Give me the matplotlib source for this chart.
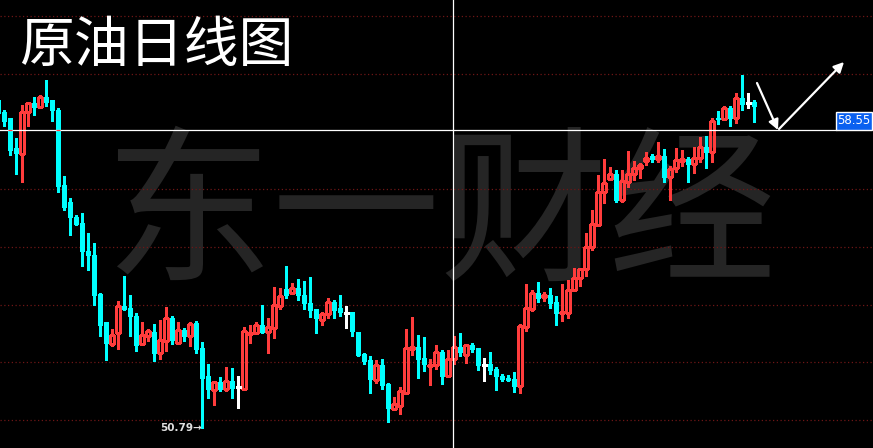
import numpy as np
import matplotlib
matplotlib.use('Agg')
import matplotlib.pyplot as plt
from matplotlib.patches import Rectangle

plt.rcParams['font.family'] = ['Noto Sans CJK SC', 'DejaVu Sans']

# daily candles, first one is cut by the left edge (index -1)
first_index = -1
opens = [59.31, 59.00, 58.84, 58.06, 57.91, 59.00, 59.24, 59.13, 59.41, 59.31,
         59.07, 57.12, 56.68, 56.28, 56.13, 55.40, 55.29, 54.28, 53.55, 52.98,
         53.27, 53.97, 53.91, 53.71, 52.98, 53.19, 53.29, 52.75, 53.06, 53.65,
         52.99, 53.34, 53.17, 53.52, 52.87, 52.14, 51.79, 51.98, 51.81, 52.01,
         51.85, 51.81, 53.23, 53.25, 53.46, 53.29, 53.39, 53.97, 54.41, 54.29,
         54.44, 54.25, 54.04, 53.89, 53.59, 53.75, 54.07, 53.91, 53.78, 53.81,
         53.29, 52.72, 52.56, 52.05, 52.43, 51.94, 51.29, 51.37, 51.70, 52.85,
         52.90, 52.61, 52.40, 52.44, 52.77, 52.15, 52.58, 52.89, 52.70, 52.95,
         52.87, 52.44, 52.46, 52.33, 52.14, 52.07, 52.07, 51.87, 53.41, 53.89,
         54.30, 54.19, 54.25, 54.07, 53.77, 53.79, 54.37, 54.68, 54.92, 55.49,
         56.08, 56.92, 57.26, 57.40, 56.71, 57.20, 57.39, 57.54, 57.73, 57.86,
         57.79, 57.87, 57.33, 57.54, 57.74, 57.79, 57.65, 57.80, 58.10, 57.96,
         58.86, 58.82, 59.10, 58.85, 59.38, 59.24, 59.28]
highs = [59.36, 59.05, 58.84, 58.32, 59.20, 59.28, 59.39, 59.44, 59.83, 59.33,
         59.12, 57.35, 56.78, 56.32, 56.39, 55.87, 55.61, 54.31, 53.55, 53.37,
         54.10, 54.75, 54.26, 53.79, 53.55, 53.36, 53.49, 53.60, 53.93, 53.70,
         53.55, 53.39, 53.55, 53.56, 53.03, 52.46, 51.98, 52.11, 52.37, 52.35,
         52.14, 53.41, 53.46, 53.55, 53.98, 53.65, 54.46, 54.44, 55.00, 54.57,
         54.67, 54.62, 54.72, 53.89, 53.80, 54.17, 54.11, 54.25, 53.97, 53.81,
         53.29, 52.74, 52.66, 52.55, 52.59, 51.97, 51.60, 51.86, 53.37, 53.68,
         53.21, 53.16, 52.59, 52.95, 52.82, 52.82, 53.19, 53.26, 52.98, 53.00,
         52.87, 52.61, 52.77, 52.37, 52.20, 52.17, 52.25, 53.50, 54.54, 54.38,
         54.59, 54.33, 54.44, 54.23, 54.54, 54.64, 54.96, 54.96, 55.87, 56.46,
         57.38, 57.79, 57.59, 57.51, 57.51, 58.00, 57.74, 57.69, 57.98, 57.91,
         58.24, 58.05, 57.61, 58.06, 58.01, 57.84, 58.10, 58.36, 58.39, 58.86,
         59.04, 59.16, 59.16, 59.51, 59.96, 59.51, 59.31]
lows = [58.91, 58.65, 57.90, 57.40, 57.20, 58.65, 58.94, 59.10, 59.16, 58.78,
        56.94, 56.47, 55.80, 56.08, 54.99, 54.89, 53.99, 53.17, 52.56, 52.92,
        52.85, 53.86, 53.19, 52.80, 52.96, 53.06, 52.54, 52.59, 52.80, 52.98,
        52.99, 53.04, 52.93, 52.74, 50.79, 51.58, 51.39, 51.74, 51.74, 51.58,
        51.32, 51.80, 52.99, 53.23, 53.25, 52.75, 53.14, 53.89, 54.16, 54.29,
        54.13, 53.88, 53.68, 53.25, 53.48, 53.64, 53.65, 53.71, 53.39, 53.18,
        52.67, 52.46, 51.71, 51.97, 51.81, 50.95, 51.26, 51.15, 51.68, 52.69,
        52.09, 52.27, 51.91, 52.33, 51.94, 52.15, 52.46, 52.66, 52.48, 52.77,
        52.31, 52.01, 52.20, 51.79, 52.00, 52.00, 51.72, 51.71, 53.30, 53.84,
        54.07, 54.10, 53.90, 53.47, 53.58, 53.66, 54.35, 54.49, 54.73, 55.43,
        56.05, 56.63, 57.24, 56.66, 56.66, 57.06, 57.23, 57.28, 57.62, 57.72,
        57.72, 57.20, 56.73, 57.46, 57.61, 57.20, 57.42, 57.70, 57.55, 57.70,
        58.69, 58.81, 58.65, 58.71, 59.05, 59.10, 58.74]
closes = [58.99, 58.78, 58.03, 57.93, 59.02, 59.23, 59.13, 59.40, 59.28, 59.05,
          57.09, 56.54, 56.27, 56.10, 55.38, 55.28, 54.25, 53.48, 53.01, 53.21,
          53.97, 53.89, 53.69, 52.96, 53.20, 53.32, 52.75, 53.08, 53.65, 53.08,
          53.34, 53.17, 53.50, 52.85, 52.10, 51.81, 51.98, 51.81, 52.01, 51.84,
          51.85, 53.32, 53.26, 53.46, 53.29, 53.41, 53.98, 54.23, 54.25, 54.43,
          54.24, 54.03, 53.87, 53.64, 53.75, 54.07, 53.87, 53.80, 53.78, 53.30,
          52.70, 52.54, 52.07, 52.43, 51.92, 51.32, 51.41, 51.75, 52.86, 52.89,
          52.59, 52.46, 52.44, 52.76, 52.15, 52.58, 52.89, 52.77, 52.94, 52.85,
          52.43, 52.44, 52.30, 52.14, 52.07, 52.05, 51.87, 53.44, 53.91, 54.30,
          54.18, 54.25, 54.05, 53.77, 53.80, 54.38, 54.69, 54.93, 55.50, 56.10,
          56.94, 57.17, 57.40, 56.73, 57.22, 57.40, 57.56, 57.62, 57.81, 57.79,
          57.87, 57.33, 57.53, 57.77, 57.79, 57.65, 57.82, 58.10, 57.96, 58.78,
          58.82, 59.10, 58.84, 59.38, 59.21, 59.24, 59.16]

title_text = '原油日线图'
watermark_text = '东一财经'
cross_price = 58.55
cross_index = 74.8
# 58.5 lies under the crosshair line, so it is left out
grid_levels = [51.0, 52.5, 54.0, 55.5, 57.0, 60.0, 61.5]

up_color = '#ff3c3c'
down_color = '#00ffff'
body_w = 0.72

o = np.array(opens)
h = np.array(highs)
l = np.array(lows)
c = np.array(closes)
idx = np.arange(len(o)) + first_index
top = np.maximum(o, c)
bot = np.minimum(o, c)
up = c > o
down = c < o
flat = c == o

fig = plt.figure(figsize=(8.73, 4.48), dpi=100, facecolor='black')
ax = fig.add_axes([0, 0, 1, 1])
ax.set_facecolor('black')
ax.set_xlim(-0.72, 144.78)
ax.set_ylim(50.27, 61.92)
ax.axis('off')

# watermark
ax.text(0.504, 0.51, watermark_text, transform=ax.transAxes, fontsize=121,
        fontweight='light', color='#252525', ha='center', va='center', zorder=0)

# dotted grid
for g in grid_levels:
    ax.axhline(g, color='#6e1616', lw=0.9, ls=(0, (1, 2)), zorder=1)

# falling candles
ax.vlines(idx[down], l[down], h[down], color=down_color, lw=0.8, zorder=3,
          antialiased=False)
ax.bar(idx[down], np.maximum(top - bot, 0.03)[down], bottom=bot[down], width=body_w,
       color=down_color, edgecolor=down_color, lw=0.5, zorder=3, antialiased=False)

# rising candles (hollow)
ax.vlines(idx[up], top[up], h[up], color=up_color, lw=0.8, zorder=3, antialiased=False)
ax.vlines(idx[up], l[up], bot[up], color=up_color, lw=0.8, zorder=3, antialiased=False)
ax.bar(idx[up], (top - bot)[up], bottom=bot[up], width=body_w, fill=False,
       edgecolor=up_color, lw=0.8, zorder=3, antialiased=False)

# doji
ax.vlines(idx[flat], l[flat], h[flat], color='white', lw=0.8, zorder=3, antialiased=False)
ax.hlines(o[flat], idx[flat] - 0.4, idx[flat] + 0.4, color='white', lw=0.8, zorder=3,
          antialiased=False)

# crosshair
ax.axhline(cross_price, xmin=0, xmax=836 / 873, color='white', lw=0.9, zorder=5)
ax.axvline(cross_index, color='white', lw=0.9, zorder=5)
hit = down & (bot <= cross_price) & (top >= cross_price)
ax.hlines([cross_price] * hit.sum(), idx[hit] - body_w / 2, idx[hit] + body_w / 2,
          color=up_color, lw=0.9, zorder=6)

# price tag of crosshair
ytr = ax.get_yaxis_transform()
ax.add_patch(Rectangle((836 / 873, cross_price), 36 / 873, 0.47, transform=ytr,
                       facecolor='#0a60f0', edgecolor='white', lw=1, zorder=7))
ax.text(854 / 873, cross_price + 0.235, '%.2f' % cross_price, transform=ytr,
        fontsize=8.5, color='white', ha='center', va='center', family='DejaVu Sans',
        zorder=8)

# lowest point mark
low_i = int(np.argmin(l))
ax.text(idx[low_i] - 0.1, l[low_i], '%.2f→' % l[low_i], fontsize=7.5,
        fontweight='bold', color='#e0e0e0', ha='right', va='center',
        family='DejaVu Sans', zorder=8)

# hand drawn arrows
arr = dict(arrowstyle='-|>', color='white', lw=1.6, mutation_scale=15,
           shrinkA=0, shrinkB=0)
ax.annotate('', xy=(778 / 873, 1 - 130 / 448), xytext=(757 / 873, 1 - 83 / 448),
            xycoords='axes fraction', textcoords='axes fraction', arrowprops=arr, zorder=8)
ax.annotate('', xy=(844 / 873, 1 - 62 / 448), xytext=(779 / 873, 1 - 129 / 448),
            xycoords='axes fraction', textcoords='axes fraction', arrowprops=arr, zorder=8)

# title
ax.text(0.022, 0.897, title_text, transform=ax.transAxes, fontsize=39.5, color='white',
        fontweight='light', ha='left', va='center', zorder=8)

fig.savefig('out.png', dpi=100, facecolor='black')
